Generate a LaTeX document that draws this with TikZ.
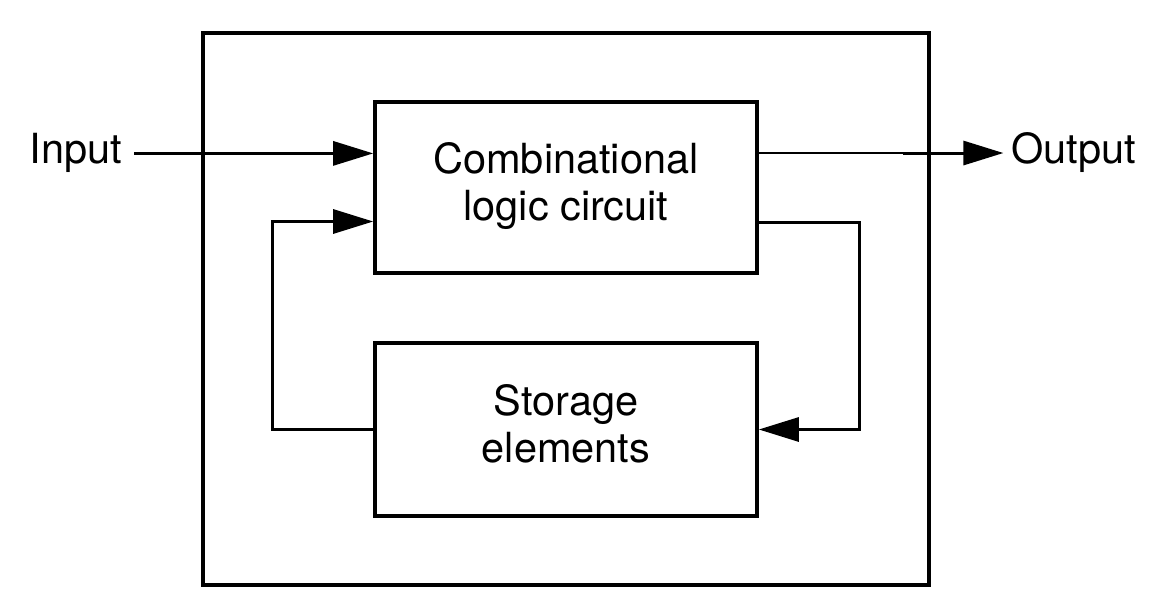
\documentclass[tikz,border=0pt]{standalone}
\usepackage{fontspec}
\setmainfont{TeX Gyre Heros}
\usetikzlibrary{arrows.meta}
\begin{document}
\begin{tikzpicture}[x=1pt,y=-1pt,
  txt/.style={font=\fontsize{41.5}{47}\selectfont},
  box/.style={draw, line width=3.6pt, inner sep=0pt, align=center, txt},
  frame/.style={draw, line width=3.4pt, inner sep=0pt},
  conn/.style={line width=3pt, -{Triangle[length=40pt,width=24pt]}},
  thinwire/.style={line width=1.5pt},
  lbl/.style={txt, anchor=base west}]
\useasboundingbox (0,0) rectangle (1167,607);
\node[frame, minimum width=726pt, minimum height=552pt] (sys) at (566,309) {};
\node[box, minimum width=382pt, minimum height=171pt] (comb) at (566,187.5) {\strut Combinational\\\strut logic circuit};
\node[box, minimum width=382pt, minimum height=173pt] (st) at (566,429.5) {\strut Storage\\\strut elements};
\node[lbl, inner sep=12pt] (in) at (17.3,164) {Input};
\node[lbl, inner sep=8pt] (out) at (1003.4,164) {Output};
\coordinate (thk) at (903,153);
\coordinate (rt) at (859,222);
\coordinate (lt) at (272,221.5);
\draw[conn] (in.east) -- (in.east -| comb.west);
\draw[thinwire] (comb.east |- out.west) -- (thk |- out.west);
\draw[conn] (thk |- out.west) -- (out.west);
\draw[conn] (comb.east |- rt) -- (rt) -- (rt |- st.east) -- (st.east);
\draw[conn] (st.west) -- (lt |- st.west) -- (lt) -- (lt -| comb.west);
\end{tikzpicture}
\end{document}
